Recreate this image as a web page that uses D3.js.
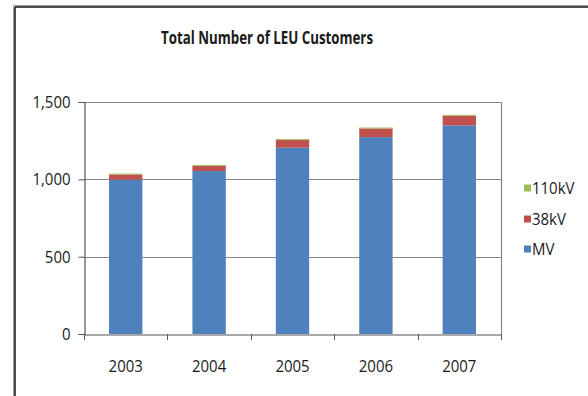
<!DOCTYPE html>
<html lang="en">
<head>
<meta charset="UTF-8">
<title>Total Number of LEU Customers</title>
<style>
  body { margin: 0; background: #fff; }
  text { font-family: "Liberation Sans Narrow", "Open Sans", sans-serif; fill: #1a1a1a; }
</style>
</head>
<body>
<svg width="588" height="396"></svg>
<script src="https://d3js.org/d3.v7.min.js"></script>
<script>
  var years = ['2003', '2004', '2005', '2006', '2007'];
  var mv = [998, 1054, 1205, 1273, 1349];
  var kv38 = [33, 32, 49, 56, 62];
  var kv110 = [6, 6, 6, 6, 6];
  var yTicks = [0, 500, 1000, 1500];
  var seriesNames = ['MV', '38kV', '110kV'];
  var colors = ['#4f81bd', '#c0504d', '#9bbb59'];

  var svg = d3.select('svg');
  var plot = {left: 84, right: 501, top: 102, bottom: 334};

  var x = d3.scaleBand().domain(years).range([plot.left, plot.right]).paddingInner(0.6).paddingOuter(0.3);
  var y = d3.scaleLinear().domain([0, 1500]).range([plot.bottom, plot.top]);

  // squeeze text a bit so it looks like the narrow office font
  var narrow = function(sel) {
    sel.each(function() {
      var w = this.getComputedTextLength();
      d3.select(this).attr('textLength', w * 0.88).attr('lengthAdjust', 'spacingAndGlyphs');
    });
  };

  // outer frame (double line left and top)
  svg.append('line').attr('x1', 13.5).attr('x2', 588).attr('y1', 5.5).attr('y2', 5.5).attr('stroke', '#999');
  svg.append('line').attr('x1', 15).attr('x2', 588).attr('y1', 7).attr('y2', 7).attr('stroke', '#111').attr('stroke-width', 1.5);
  svg.append('line').attr('x1', 13.5).attr('x2', 13.5).attr('y1', 5.5).attr('y2', 396).attr('stroke', '#999');
  svg.append('line').attr('x1', 15).attr('x2', 15).attr('y1', 7).attr('y2', 396).attr('stroke', '#111').attr('stroke-width', 1.5);

  // gridlines
  svg.append('g').selectAll('line').data(yTicks.filter(function(d) { return d > 0; })).enter()
    .append('line')
    .attr('x1', plot.left).attr('x2', plot.right)
    .attr('y1', function(d) { return Math.round(y(d)) + 0.5; })
    .attr('y2', function(d) { return Math.round(y(d)) + 0.5; })
    .attr('stroke', '#868686').attr('stroke-width', 1.2);

  // plot area right border
  svg.append('line').attr('x1', plot.right + 0.5).attr('x2', plot.right + 0.5)
    .attr('y1', plot.top).attr('y2', plot.bottom).attr('stroke', '#868686').attr('stroke-width', 1.2);

  // stacked bars
  var rows = years.map(function(yr, i) { return {year: yr, MV: mv[i], '38kV': kv38[i], '110kV': kv110[i]}; });
  var stacked = d3.stack().keys(seriesNames)(rows);

  svg.append('g').selectAll('g').data(stacked).enter()
    .append('g')
    .attr('fill', function(d, i) { return colors[i]; })
    .selectAll('rect').data(function(d) { return d; }).enter()
    .append('rect')
    .attr('x', function(d) { return x(d.data.year); })
    .attr('width', x.bandwidth())
    .attr('y', function(d) { return y(d[1]); })
    .attr('height', function(d) { return y(d[0]) - y(d[1]); });

  // axes
  var yAxis = d3.axisLeft(y).tickValues(yTicks).tickSize(6).tickPadding(8).tickFormat(d3.format(','));
  var gy = svg.append('g').attr('transform', 'translate(' + (plot.left + 0.5) + ',0)').call(yAxis);
  gy.select('.domain').attr('stroke', '#555').attr('stroke-width', 1.2);
  gy.selectAll('.tick line').attr('stroke', '#555');
  gy.selectAll('text').style('font-size', '17px').call(narrow);

  var xAxis = d3.axisBottom(x).tickSize(0).tickPadding(25);
  var gx = svg.append('g').attr('transform', 'translate(0,' + (plot.bottom + 0.5) + ')').call(xAxis);
  gx.select('.domain').attr('stroke', '#555').attr('stroke-width', 1.2);
  gx.selectAll('text').style('font-size', '17px').call(narrow);

  // category boundary ticks
  var bounds = d3.range(years.length + 1).map(function(i) { return plot.left + i * (plot.right - plot.left) / years.length; });
  svg.append('g').selectAll('line').data(bounds).enter()
    .append('line')
    .attr('x1', function(d) { return Math.round(d) + 0.5; })
    .attr('x2', function(d) { return Math.round(d) + 0.5; })
    .attr('y1', plot.bottom).attr('y2', plot.bottom + 6)
    .attr('stroke', '#555');

  // title
  svg.append('text').attr('x', 161).attr('y', 44)
    .attr('textLength', 212).attr('lengthAdjust', 'spacingAndGlyphs')
    .style('font-size', '17px').style('font-weight', 'bold')
    .text('Total Number of LEU Customers');

  // legend
  var legendItems = ['110kV', '38kV', 'MV'];
  var legendColors = [colors[2], colors[1], colors[0]];
  var legendY = [188, 219, 249];
  var lg = svg.append('g').selectAll('g').data(legendItems).enter()
    .append('g')
    .attr('transform', function(d, i) { return 'translate(524,' + legendY[i] + ')'; });
  lg.append('rect').attr('x', 0).attr('y', -3.5).attr('width', 7).attr('height', 7)
    .attr('fill', function(d, i) { return legendColors[i]; });
  lg.append('text').attr('x', 8).attr('y', 0).attr('dy', '0.35em')
    .style('font-size', '17px')
    .text(function(d) { return d; })
    .call(narrow);
</script>
</body>
</html>
